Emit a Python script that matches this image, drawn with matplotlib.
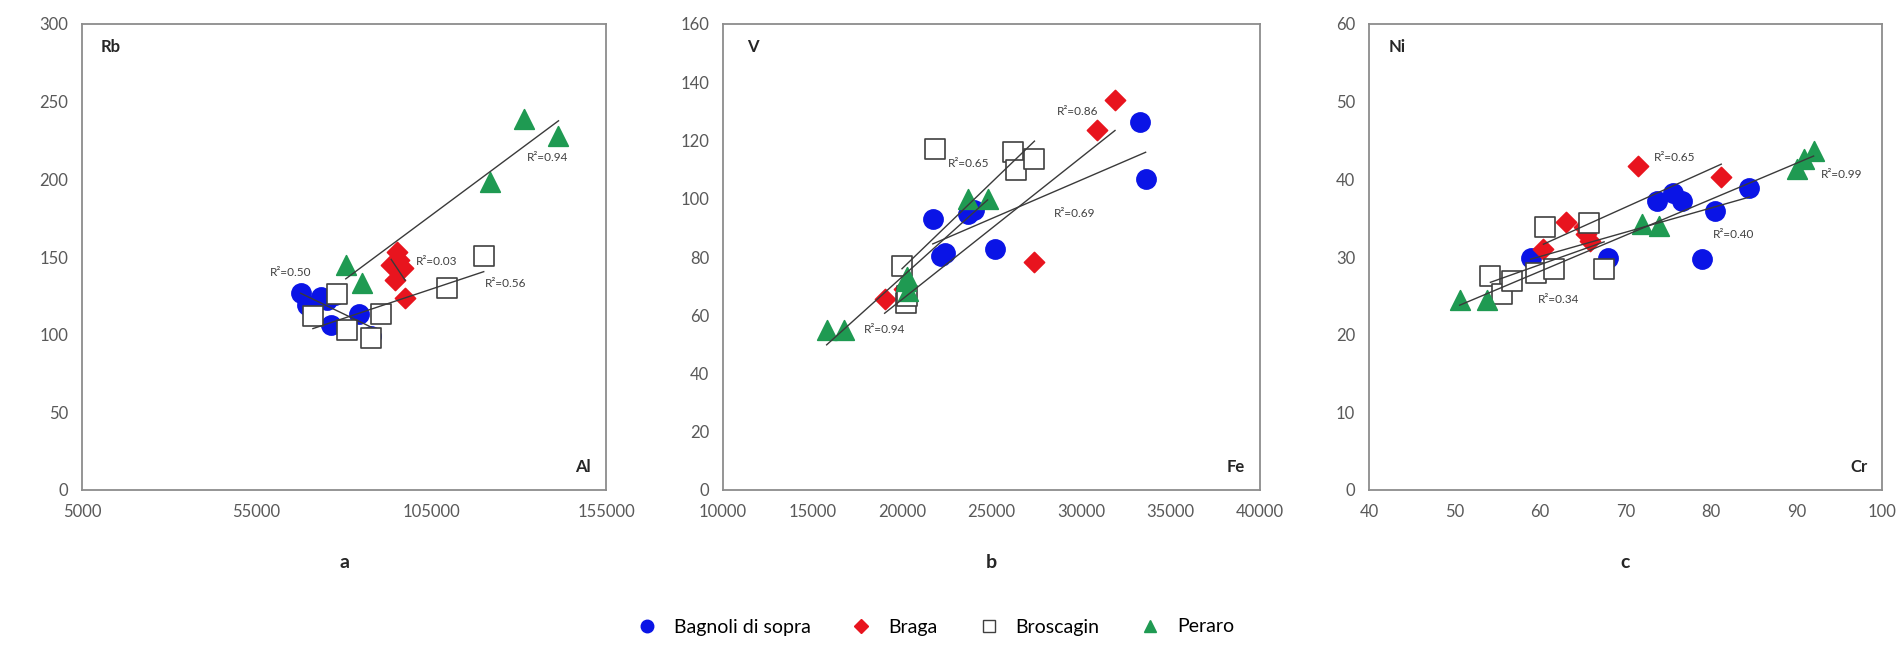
import numpy as np
import matplotlib
matplotlib.use("Agg")
import matplotlib.pyplot as plt
from matplotlib.lines import Line2D

plt.rcParams['font.family'] = ['Lato', 'DejaVu Sans']

# site names and marker styles
sites = ["Bagnoli di sopra", "Braga", "Broscagin", "Peraro"]

# panel a: Al (x) vs Rb (y)
a_bagnoli_x = [67600, 69400, 75100, 77400, 76300, 84300, 87800, 73500]
a_bagnoli_y = [127, 119, 122.6, 125.8, 106.5, 113, 99, 124]
a_braga_x = [95200, 93500, 97000, 94700, 97500, 95800]
a_braga_y = [153, 145, 143, 135.5, 123.7, 148]
a_brosc_x = [120000, 109600, 90600, 87800, 80900, 71100, 78000]
a_brosc_y = [150.5, 130, 113, 98, 103, 112, 126]
a_peraro_x = [80500, 85100, 121700, 131400, 141400]
a_peraro_y = [145, 133, 198, 239, 228]

# panel b: Fe (x) vs V (y)
b_bagnoli_x = [21720, 22180, 22400, 23680, 24000, 25170, 33290, 33610]
b_bagnoli_y = [93.2, 80.3, 81.5, 94.6, 96, 82.6, 126.5, 106.7]
b_braga_x = [31900, 30920, 27400, 19030, 20100]
b_braga_y = [133.8, 123.5, 78.3, 65.6, 69]
b_brosc_x = [21840, 26200, 26390, 27400, 20000, 20230, 20300]
b_brosc_y = [117, 116.2, 110, 113.5, 76.8, 64.2, 66.5]
b_peraro_x = [15790, 16780, 20230, 20340, 20300, 23680, 24780]
b_peraro_y = [55, 55, 71.7, 68.2, 73, 99.8, 99.8]

# panel c: Cr (x) vs Ni (y)
c_bagnoli_x = [58.9, 68.0, 73.7, 75.6, 76.6, 79.0, 80.5, 84.5]
c_bagnoli_y = [29.9, 29.9, 37.2, 38.3, 37.2, 29.7, 35.9, 38.9]
c_braga_x = [71.5, 81.2, 63.0, 65.2, 65.9, 60.4, 65.4]
c_braga_y = [41.7, 40.3, 34.5, 33.8, 32.0, 31.0, 32.9]
c_brosc_x = [60.6, 65.7, 54.2, 55.5, 56.7, 59.5, 61.6, 67.5]
c_brosc_y = [33.8, 34.4, 27.5, 25.2, 26.9, 28.0, 28.4, 28.4]
c_peraro_x = [50.6, 53.8, 71.9, 73.9, 90.0, 90.9, 92.0]
c_peraro_y = [24.5, 24.5, 34.3, 34.0, 41.3, 42.6, 43.7]

# R² labels: (text, x, y)
a_r2 = [("R²=0.50", 64800, 140), ("R²=0.03", 106500, 147),
        ("R²=0.56", 126300, 133), ("R²=0.94", 138300, 214)]
b_r2 = [("R²=0.94", 19000, 55), ("R²=0.65", 23700, 112),
        ("R²=0.86", 29800, 130), ("R²=0.69", 29650, 95)]
c_r2 = [("R²=0.65", 75.7, 42.8), ("R²=0.99", 95.3, 40.6),
        ("R²=0.40", 82.6, 32.9), ("R²=0.34", 62.2, 24.5)]

styles = [
    dict(marker="o", color="#0a14e6", edgecolor="#0a14e6", s=190),
    dict(marker="D", color="#e8141e", edgecolor="#e8141e", s=105),
    dict(marker="s", color="white", edgecolor="#404040", s=210),
    dict(marker="^", color="#1f9a52", edgecolor="#1f9a52", s=200),
]

panels = [
    dict(series=[(a_bagnoli_x, a_bagnoli_y), (a_braga_x, a_braga_y),
                 (a_brosc_x, a_brosc_y), (a_peraro_x, a_peraro_y)],
         xlim=(5000, 155000), xticks=[5000, 55000, 105000, 155000],
         ylim=(0, 300), yticks=range(0, 301, 50),
         ylab="Rb", xlab="Al", r2=a_r2, letter="a",
         pos=[82 / 1900, 155 / 645, 524 / 1900, 466 / 645]),
    dict(series=[(b_bagnoli_x, b_bagnoli_y), (b_braga_x, b_braga_y),
                 (b_brosc_x, b_brosc_y), (b_peraro_x, b_peraro_y)],
         xlim=(10000, 40000), xticks=range(10000, 40001, 5000),
         ylim=(0, 160), yticks=range(0, 161, 20),
         ylab="V", xlab="Fe", r2=b_r2, letter="b",
         pos=[723 / 1900, 155 / 645, 537 / 1900, 466 / 645]),
    dict(series=[(c_bagnoli_x, c_bagnoli_y), (c_braga_x, c_braga_y),
                 (c_brosc_x, c_brosc_y), (c_peraro_x, c_peraro_y)],
         xlim=(40, 100), xticks=range(40, 101, 10),
         ylim=(0, 60), yticks=range(0, 61, 10),
         ylab="Ni", xlab="Cr", r2=c_r2, letter="c",
         pos=[1369 / 1900, 155 / 645, 513 / 1900, 466 / 645]),
]

fig = plt.figure(figsize=(19, 6.45), dpi=100)

for p in panels:
    ax = fig.add_axes(p["pos"])
    for (x, y), st in zip(p["series"], styles):
        ax.scatter(x, y, marker=st["marker"], c=st["color"],
                   edgecolors=st["edgecolor"], s=st["s"], linewidths=1.2,
                   zorder=3)
    # linear trendlines over each series range
    for x, y in p["series"]:
        x = np.asarray(x, float)
        k, b = np.polyfit(x, np.asarray(y, float), 1)
        xs = np.array([x.min(), x.max()])
        ax.plot(xs, k * xs + b, color="#3a3a3a", lw=1.0, zorder=4)
    for txt, tx, ty in p["r2"]:
        ax.text(tx, ty, txt, fontsize=8.5, color="#404040",
                ha="center", va="center", zorder=5)
    ax.set_xlim(*p["xlim"])
    ax.set_ylim(*p["ylim"])
    ax.set_xticks(list(p["xticks"]))
    ax.set_yticks(list(p["yticks"]))
    ax.tick_params(length=0, labelsize=12, labelcolor="#595959", pad=10)
    for sp in ax.spines.values():
        sp.set_color("#8c8c8c")
        sp.set_linewidth(1.3)
    ax.text(0.055, 0.95, p["ylab"], transform=ax.transAxes, fontsize=12,
            fontweight="bold", color="#262626", ha="center", va="center")
    ax.text(0.955, 0.05, p["xlab"], transform=ax.transAxes, fontsize=12,
            fontweight="bold", color="#262626", ha="center", va="center")
    cx = p["pos"][0] + p["pos"][2] / 2
    fig.text(cx, 1 - 563 / 645, p["letter"], fontsize=14, fontweight="bold",
             color="#262626", ha="center", va="center")

handles = [
    Line2D([], [], ls="none", marker="o", color="#0a14e6", markersize=9),
    Line2D([], [], ls="none", marker="D", color="#e8141e", markersize=7),
    Line2D([], [], ls="none", marker="s", markerfacecolor="white",
           markeredgecolor="#404040", markersize=9),
    Line2D([], [], ls="none", marker="^", color="#1f9a52", markersize=9),
]
fig.legend(handles, sites, loc="center", bbox_to_anchor=(0.49, 1 - 627 / 645),
           ncol=4, frameon=False, fontsize=14, handletextpad=0.4,
           columnspacing=1.6)

fig.savefig("out.png", dpi=100, facecolor="white")
